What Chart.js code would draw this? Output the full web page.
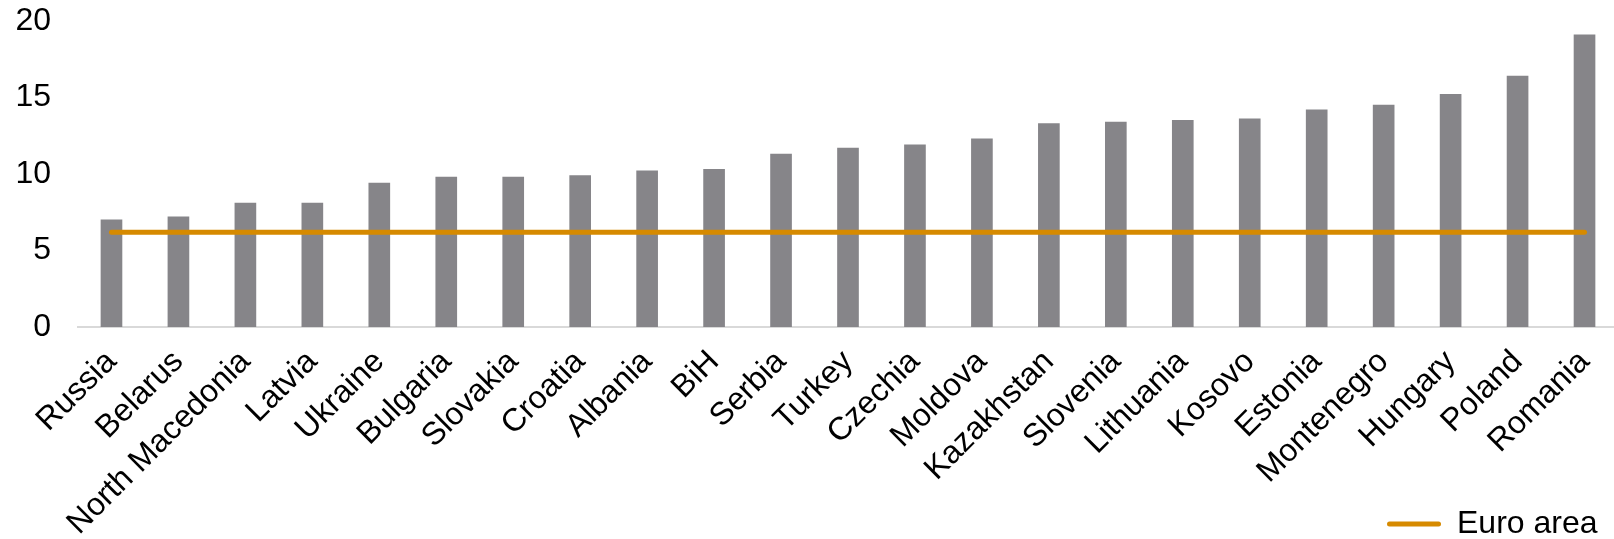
<!DOCTYPE html>
<html>
<head>
<meta charset="utf-8">
<script src="https://cdn.jsdelivr.net/npm/chart.js@4.4.1/dist/chart.umd.min.js"></script>
<style>
  body { margin: 0; background: #fff; }
  #wrap { width: 1614px; height: 539px; position: relative; overflow: hidden; }
</style>
</head>
<body>
<div id="wrap"><canvas id="wykres" width="1618" height="539"></canvas></div>
<script>
// kraje, posortowane jak na wykresie
const countries = ['Russia', 'Belarus', 'North Macedonia', 'Latvia', 'Ukraine', 'Bulgaria', 'Slovakia',
  'Croatia', 'Albania', 'BiH', 'Serbia', 'Turkey', 'Czechia', 'Moldova', 'Kazakhstan', 'Slovenia',
  'Lithuania', 'Kosovo', 'Estonia', 'Montenegro', 'Hungary', 'Poland', 'Romania'];

const countryValues = [7.0, 7.2, 8.1, 8.1, 9.4, 9.8, 9.8, 9.9, 10.2, 10.3, 11.3, 11.7, 11.9, 12.3,
  13.3, 13.4, 13.5, 13.6, 14.2, 14.5, 15.2, 16.4, 19.1];

// poziom strefy euro (linia pozioma)
const euroArea = [6.2, 6.2, 6.2, 6.2, 6.2, 6.2, 6.2, 6.2, 6.2, 6.2, 6.2, 6.2, 6.2, 6.2,
  6.2, 6.2, 6.2, 6.2, 6.2, 6.2, 6.2, 6.2, 6.2];

const yTicks = [0, 5, 10, 15, 20];

const barColor = '#868589';
const lineColor = '#D68A00';
const font = { family: '"Liberation Sans", Arial, sans-serif', size: 32 };

// legenda w prawym dolnym rogu, pod etykietami osi
const legendPlace = {
  id: 'legendPlace',
  afterLayout(chart) {
    const lg = chart.legend;
    if (!lg) return;
    lg.left = 1387;
    lg.right = 1387 + lg.width;
    lg.top = 524 - font.size / 2;
    lg.bottom = lg.top + font.size;
  }
};

const ctx = document.getElementById('wykres').getContext('2d');
new Chart(ctx, {
  type: 'bar',
  data: {
    labels: countries,
    datasets: [
      {
        type: 'line',
        label: 'Euro area',
        data: euroArea,
        borderColor: lineColor,
        backgroundColor: lineColor,
        borderWidth: 5,
        borderCapStyle: 'round',
        pointRadius: 0,
        fill: false,
        order: 1
      },
      {
        label: 'Countries',
        data: countryValues,
        backgroundColor: barColor,
        barThickness: 21,
        order: 2
      }
    ]
  },
  options: {
    responsive: false,
    animation: false,
    layout: { padding: { top: 0, left: 15, right: 0, bottom: 0 } },
    plugins: {
      tooltip: { enabled: false },
      legend: {
        position: 'chartArea',
        align: 'start',
        labels: {
          color: '#000',
          font: font,
          padding: 0,
          boxWidth: 54,
          boxHeight: 5,
          useBorderRadius: true,
          borderRadius: 2.5,
          filter: item => item.text === 'Euro area',
          generateLabels: chart => Chart.defaults.plugins.legend.labels.generateLabels(chart)
            .map(l => Object.assign(l, { lineWidth: 0, fillStyle: lineColor }))
        }
      }
    },
    scales: {
      x: {
        grid: { display: false, drawTicks: false },
        border: { display: true, color: '#D9D9D9', width: 2 },
        ticks: {
          color: '#000',
          font: font,
          autoSkip: false,
          minRotation: 45,
          maxRotation: 45,
          padding: 16
        },
        afterFit: scale => {
          scale.height = 212;
          scale.paddingLeft = 0;
          scale.paddingRight = 0;
        }
      },
      y: {
        min: 0,
        max: 20,
        grid: { display: false, drawTicks: false },
        border: { display: false },
        afterBuildTicks: scale => { scale.ticks = yTicks.map(v => ({ value: v })); },
        ticks: {
          color: '#000',
          font: font,
          padding: 27
        },
        afterFit: scale => {
          scale.width = 63;
          scale.paddingTop = 21;
          scale.paddingBottom = 0;
        }
      }
    }
  },
  plugins: [legendPlace]
});
</script>
</body>
</html>
